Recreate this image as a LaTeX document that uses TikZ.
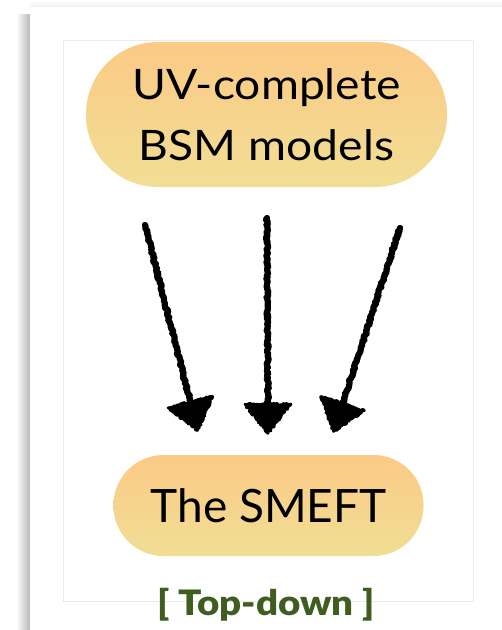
\documentclass[tikz,border=0pt]{standalone}
\usepackage{fontspec}
\setmainfont{Lato}
\newfontfamily\gillwide{Lato}[FakeStretch=1.1]
\newfontfamily\tdfont{Lato}[UprightFont=* Black, FakeStretch=1.1]
\usetikzlibrary{calc,decorations.pathmorphing}
\definecolor{pilltop}{HTML}{FBCA86}
\definecolor{pillbot}{HTML}{F1DE95}
\definecolor{tdgreen}{HTML}{3F5D1F}
\definecolor{framegray}{HTML}{EBEBEB}
\tikzset{
  pill/.style={shape=rectangle, top color=pilltop, bottom color=pillbot, draw=none, inner sep=0pt, align=center, text=black},
  shaft/.style={line width=6.2pt, line cap=round, line join=round, decorate, decoration={random steps, segment length=1.5pt, amplitude=1.1pt}},
  headstyle/.style={fill=black, draw=black, line width=2.5pt, line join=round, decorate, decoration={random steps, segment length=1.5pt, amplitude=1.1pt}},
}
\newcommand\sketcharrow[2]{%
  \draw[shaft] (#1) -- ($(#2)!30pt!(#1)$);
  \coordinate (hb) at ($(#2)!31pt!(#1)$);
  \filldraw[headstyle] ($(hb)!23pt!90:(#2)$) -- ($(#2)!1.5pt!(#1)$) -- ($(hb)!23pt!-90:(#2)$) -- cycle;
}
\begin{document}
\begin{tikzpicture}[x=1pt,y=-1pt]
\pgfmathsetseed{7}
\useasboundingbox (0,0) rectangle (502,630);
% card shadow
\shade[left color=white, right color=black!28] (16,14) rectangle (30,630);
\shade[top color=white, bottom color=black!6] (30,0) rectangle (502,7);
\fill[white] (30,7) rectangle (502,630);
% inner frame
\draw[framegray, line width=0.8pt] (63,40) rectangle (473,601);
% nodes
\node[pill, minimum width=361pt, minimum height=145pt, rounded corners=72pt,
      font=\gillwide\fontsize{42}{61}\selectfont] (uv) at (266.5,114.5) {UV-complete\\BSM models};
\node[pill, minimum width=310pt, minimum height=101pt, rounded corners=50pt,
      font=\fontsize{46}{55}\selectfont] (smeft) at (268.5,505.5) {The SMEFT};
% arrows
\coordinate (s1) at (145,225); \coordinate (t1) at (198,432);
\coordinate (s2) at (267,218); \coordinate (t2) at (268,435);
\coordinate (s3) at (400,228); \coordinate (t3) at (333,433);
\sketcharrow{s1}{t1}
\sketcharrow{s2}{t2}
\sketcharrow{s3}{t3}
% label
\node[anchor=base, text=tdgreen, font=\tdfont\fontsize{35}{37}\selectfont] (td) at (266,615) {[ Top-down ]};
\end{tikzpicture}
\end{document}
